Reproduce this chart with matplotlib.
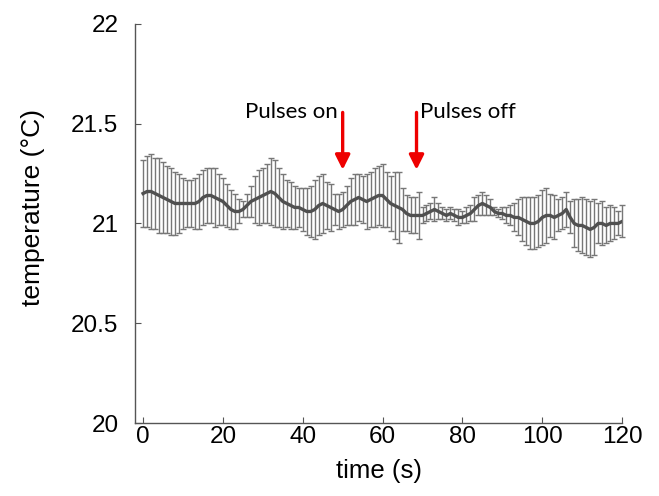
import matplotlib.pyplot as plt

# time (s)
t = list(range(0, 121))

# mean temperature (deg C)
temp = [21.15, 21.16, 21.16, 21.15, 21.14, 21.13, 21.12, 21.11, 21.10, 21.10,
        21.10, 21.10, 21.10, 21.10, 21.11, 21.13, 21.14, 21.14, 21.13, 21.12,
        21.11, 21.09, 21.07, 21.06, 21.06, 21.07, 21.09, 21.11, 21.12, 21.13,
        21.14, 21.15, 21.16, 21.15, 21.13, 21.11, 21.10, 21.09, 21.08, 21.08,
        21.07, 21.06, 21.06, 21.07, 21.09, 21.10, 21.09, 21.08, 21.07, 21.06,
        21.07, 21.09, 21.11, 21.12, 21.13, 21.12, 21.11, 21.12, 21.13, 21.14,
        21.14, 21.12, 21.10, 21.09, 21.08, 21.07, 21.05, 21.04, 21.04, 21.04,
        21.04, 21.05, 21.06, 21.07, 21.06, 21.05, 21.04, 21.05, 21.04, 21.03,
        21.03, 21.04, 21.05, 21.07, 21.09, 21.10, 21.09, 21.08, 21.06, 21.05,
        21.05, 21.04, 21.04, 21.03, 21.03, 21.02, 21.01, 21.00, 21.00, 21.01,
        21.03, 21.04, 21.04, 21.03, 21.04, 21.05, 21.07, 21.03, 21.00, 20.99,
        20.99, 20.98, 20.97, 20.98, 21.00, 21.00, 20.99, 21.00, 21.00, 21.00,
        21.01]

# error (+/-)
err = [0.17, 0.18, 0.19, 0.18, 0.19, 0.18, 0.17, 0.17, 0.16, 0.15,
       0.13, 0.12, 0.12, 0.13, 0.14, 0.14, 0.14, 0.14, 0.15, 0.13,
       0.12, 0.11, 0.10, 0.09, 0.06, 0.04, 0.06, 0.08, 0.12, 0.14,
       0.14, 0.15, 0.17, 0.17, 0.15, 0.14, 0.12, 0.12, 0.11, 0.10,
       0.11, 0.12, 0.13, 0.15, 0.15, 0.15, 0.12, 0.12, 0.08, 0.09,
       0.09, 0.10, 0.12, 0.13, 0.12, 0.12, 0.14, 0.14, 0.15, 0.15,
       0.16, 0.14, 0.14, 0.17, 0.18, 0.11, 0.09, 0.09, 0.09, 0.12,
       0.04, 0.04, 0.04, 0.06, 0.04, 0.03, 0.03, 0.03, 0.03, 0.04,
       0.03, 0.04, 0.04, 0.06, 0.05, 0.06, 0.05, 0.04, 0.02, 0.02,
       0.03, 0.04, 0.05, 0.07, 0.09, 0.11, 0.12, 0.13, 0.13, 0.13,
       0.14, 0.14, 0.11, 0.11, 0.08, 0.08, 0.09, 0.08, 0.12, 0.13,
       0.14, 0.14, 0.14, 0.14, 0.10, 0.11, 0.09, 0.09, 0.08, 0.06,
       0.08]

# pulse markers
pulse_labels = ['Pulses on', 'Pulses off']
pulse_times = [50, 68.5]

plt.rcParams['font.family'] = ['Liberation Sans', 'DejaVu Sans']

fig = plt.figure(figsize=(6.59, 4.96), dpi=100)
ax = fig.add_axes([0.205, 0.147, 0.739, 0.805])

ax.errorbar(t, temp, yerr=err, fmt='none', ecolor='#777777', elinewidth=1.0,
            capsize=2.2, capthick=1.0, clip_on=False)
ax.plot(t, temp, color='#505050', lw=2.4, zorder=3)

ax.set_xlim(-2, 120)
ax.set_ylim(20, 22)
ax.set_xticks([0, 20, 40, 60, 80, 100, 120])
ax.set_yticks([20, 20.5, 21, 21.5, 22])
ax.set_yticklabels(['20', '20.5', '21', '21.5', '22'])

for s in ['top', 'right']:
    ax.spines[s].set_visible(False)
for s in ['left', 'bottom']:
    ax.spines[s].set_color('#555555')
    ax.spines[s].set_linewidth(1.0)

ax.tick_params(direction='in', length=4, color='#555555', labelsize=17.5)
ax.tick_params(axis='x', pad=2)
ax.tick_params(axis='y', pad=12)
ax.set_xlabel('time (s)', fontsize=18.5, labelpad=8)
ax.set_ylabel('temperature (°C)', fontsize=19)
ax.yaxis.set_label_coords(-0.185, 0.54)

# red arrows with labels
for lab, pt in zip(pulse_labels, pulse_times):
    ax.annotate('', xy=(pt, 21.255), xytext=(pt, 21.57),
                arrowprops=dict(arrowstyle='-|>', color='#ee0000', lw=2.4,
                                mutation_scale=22))
ax.text(pulse_times[0] - 1.2, 21.56, pulse_labels[0], ha='right', va='center',
        fontsize=16, family=['Lato', 'DejaVu Sans'])
ax.text(pulse_times[1] + 0.8, 21.56, pulse_labels[1], ha='left', va='center',
        fontsize=16, family=['Lato', 'DejaVu Sans'])

fig.savefig('out.png', dpi=100)
